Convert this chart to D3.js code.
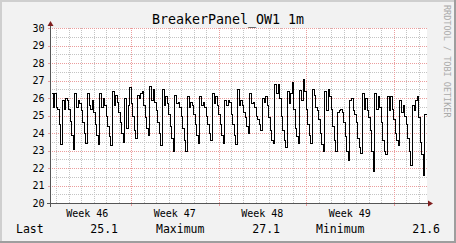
<!DOCTYPE html>
<html>
<head>
<meta charset="utf-8">
<script src="https://cdn.jsdelivr.net/npm/d3@7"></script>
<style>
  html, body { margin: 0; padding: 0; background: #f2f2f2; }
  svg { display: block; font-family: 'DejaVu Sans Mono', monospace; }
</style>
</head>
<body>
<div id="chart"></div>
<script>
// RRD style graph of one breaker panel sensor, one month

const title = 'BreakerPanel_OW1 1m'
const watermark = 'RRDTOOL / TOBI OETIKER'

// one sample every 3 hours, starting Monday 2023-11-13 14:24 UTC
const startTime = Date.UTC(2023, 10, 13, 14, 24)
const stepHours = 3

const values = [
  26.3, 25.5, 26.3, 25.5, 25.4, 24.5, 23.35, 25.9,
  25.4, 26.0, 25.9, 25.4, 24.7, 23.9, 23.1, 26.3,
  25.5, 25.9, 25.7, 25.3, 24.6, 24.0, 23.45, 26.3,
  25.6, 25.4, 25.9, 25.2, 24.5, 23.9, 23.35, 26.3,
  25.5, 26.0, 25.6, 25.0, 24.4, 23.8, 23.3, 26.4,
  25.6, 26.2, 25.8, 25.2, 24.6, 24.0, 23.5, 26.0,
  24.3, 25.6, 26.6, 25.7, 25.0, 24.2, 23.7, 26.2,
  26.0, 26.3, 26.4, 25.6, 24.9, 24.3, 23.9, 26.7,
  25.9, 26.5, 25.8, 25.3, 24.6, 24.0, 23.3, 26.5,
  25.6, 26.1, 25.7, 25.1, 24.4, 23.7, 23.0, 26.2,
  25.7, 25.8, 25.5, 25.0, 24.3, 23.6, 23.0, 26.1,
  25.5, 25.8, 25.6, 25.1, 24.5, 23.9, 23.45, 26.1,
  25.6, 25.8, 25.5, 25.0, 24.5, 24.0, 23.6, 26.3,
  25.7, 26.1, 25.6, 25.1, 24.5, 23.9, 23.45, 25.9,
  25.6, 25.9, 25.8, 25.1, 24.5, 23.9, 23.4, 26.5,
  25.6, 25.9, 25.6, 25.2, 24.9, 24.4, 24.0, 26.3,
  25.7, 25.8, 25.5, 25.0, 24.8, 24.5, 24.2, 26.0,
  25.8, 26.1, 25.6, 24.9, 24.2, 23.6, 23.45, 26.8,
  26.3, 26.8, 26.0, 25.0, 24.2, 23.6, 23.2, 26.4,
  25.7, 26.3, 26.9, 25.4, 24.3, 23.8, 23.45, 26.45,
  25.9, 27.1, 26.4, 25.4, 24.5, 23.9, 23.45, 26.5,
  26.2, 25.5, 25.3, 24.8, 24.0, 23.4, 23.0, 26.4,
  25.3, 26.5, 26.1, 25.4, 24.4, 23.6, 23.0, 25.2,
  25.3, 25.4, 25.2, 24.6, 23.8, 23.0, 22.45, 25.9,
  26.0, 25.3, 25.1, 24.6, 23.7, 23.2, 22.85, 26.3,
  25.4, 26.0, 25.3, 24.9, 24.2, 23.0, 21.8, 26.3,
  25.4, 26.1, 25.5, 24.6, 23.6, 23.0, 22.8, 26.1,
  25.3, 26.1, 25.4, 24.8, 24.0, 23.6, 23.3, 25.9,
  25.2, 25.6, 25.0, 24.5, 23.7, 23.0, 22.2, 25.6,
  25.3, 25.9, 26.1, 24.9, 23.5, 22.8, 21.6, 25.1
]

const weekStarts = ['2023-11-13', '2023-11-20', '2023-11-27', '2023-12-04']
const weekLabels = ['Week 46', 'Week 47', 'Week 48', 'Week 49']
const yTicks = [20, 21, 22, 23, 24, 25, 26, 27, 28, 29, 30]
const legendNames = ['Last', 'Maximum', 'Minimum']

// colours
const col = {
  back: '#f2f2f2',
  canvas: '#ffffff',
  shadeA: '#cfcfcf',
  shadeB: '#9e9e9e',
  grid: '#c4c4c4',
  mgrid: '#eb9d9d',
  axis: '#555555',
  arrow: '#801f1f',
  font: '#000000'
}

const width = 456
const height = 243
const plot = { left: 51, right: 427, top: 28, bottom: 203 }

const svg = d3.select('#chart')
  .append('svg')
  .attr('width', width)
  .attr('height', height)

// background and 3d border
svg.append('rect').attr('width', width).attr('height', height).attr('fill', col.back)
svg.append('rect').attr('x', 0).attr('y', 0).attr('width', width).attr('height', 2).attr('fill', col.shadeA)
svg.append('rect').attr('x', 0).attr('y', 0).attr('width', 2).attr('height', height).attr('fill', col.shadeA)
svg.append('rect').attr('x', width - 2).attr('y', 0).attr('width', 2).attr('height', height).attr('fill', col.shadeB)
svg.append('rect').attr('x', 0).attr('y', height - 2).attr('width', width).attr('height', 2).attr('fill', col.shadeB)

// canvas
svg.append('rect')
  .attr('x', plot.left)
  .attr('y', plot.top)
  .attr('width', plot.right - plot.left)
  .attr('height', plot.bottom - plot.top)
  .attr('fill', col.canvas)

const step = stepHours * 3600 * 1000
const endTime = startTime + values.length * step
const data = values.map((v, i) => ({ t: new Date(startTime + i * step), v }))

const x = d3.scaleUtc()
  .domain([new Date(startTime), new Date(endTime)])
  .range([plot.left, plot.right - 1])

const y = d3.scaleLinear()
  .domain([20, 30])
  .range([plot.bottom, plot.top])

// dotted lines built from 1px squares so they stay crisp
const hDots = (yy, x0, x1) => {
  let d = ''
  for (let xx = x0; xx < x1; xx += 2) d += `M${xx},${yy}h1v1h-1z`
  return d
}
const vDots = (xx, y0, y1) => {
  let d = ''
  for (let yy = y0; yy < y1; yy += 2) d += `M${xx},${yy}h1v1h-1z`
  return d
}

const gridG = svg.append('g').attr('shape-rendering', 'crispEdges')

// minor grid
const halfSteps = d3.range(20.5, 30, 1)
const days = d3.utcDay.range(new Date(startTime), new Date(endTime))
  .filter(d => d.getUTCDay() !== 1)
gridG.append('path')
  .attr('d', halfSteps.map(v => hDots(Math.round(y(v)), plot.left + 1, plot.right)).join('') +
    days.map(d => vDots(Math.round(x(d)), plot.top, plot.bottom)).join(''))
  .attr('fill', col.grid)

// major grid
const mondays = d3.utcMonday.range(new Date(startTime), new Date(endTime))
gridG.append('path')
  .attr('d', yTicks.slice(1).map(v => hDots(Math.round(y(v)), plot.left + 1, plot.right)).join('') +
    mondays.map(d => vDots(Math.round(x(d)), plot.top, plot.bottom)).join(''))
  .attr('fill', col.mgrid)

// tick marks outside the axes
gridG.selectAll('.ytick').data(yTicks).join('rect')
  .attr('x', plot.left - 3).attr('y', d => Math.round(y(d)))
  .attr('width', 2).attr('height', 1)
  .attr('fill', col.mgrid)
gridG.selectAll('.xtick').data(mondays).join('rect')
  .attr('x', d => Math.round(x(d))).attr('y', plot.bottom + 1)
  .attr('width', 1).attr('height', 2)
  .attr('fill', col.mgrid)

// axes
svg.append('rect')
  .attr('x', plot.left - 4).attr('y', plot.bottom)
  .attr('width', plot.right - plot.left + 6).attr('height', 1)
  .attr('fill', col.axis)
svg.append('rect')
  .attr('x', plot.left - 1).attr('y', plot.top - 4)
  .attr('width', 1).attr('height', plot.bottom - plot.top + 8)
  .attr('fill', col.axis)

svg.append('path')
  .attr('d', `M${plot.left - 3.5},${plot.top - 2} L${plot.left - 0.5},${plot.top - 7} L${plot.left + 2.5},${plot.top - 2} Z`)
  .attr('fill', col.arrow)
svg.append('path')
  .attr('d', `M${plot.right + 1},${plot.bottom - 2.5} L${plot.right + 6},${plot.bottom + 0.5} L${plot.right + 1},${plot.bottom + 3.5} Z`)
  .attr('fill', col.arrow)

// y labels
svg.append('g').selectAll('text').data(yTicks).join('text')
  .attr('x', plot.left - 6.5)
  .attr('y', d => y(d) + 3.6)
  .attr('text-anchor', 'end')
  .attr('font-size', '10px')
  .attr('fill', col.font)
  .text(d => d)

// week labels
svg.append('g').selectAll('text').data(weekStarts).join('text')
  .attr('x', d => x(new Date(Date.parse(d) + 3.5 * 86400000)))
  .attr('y', 216.5)
  .attr('text-anchor', 'middle')
  .attr('font-size', '10px')
  .attr('fill', col.font)
  .text((d, i) => weekLabels[i])

// data line
const line = d3.line()
  .x(d => Math.round(x(d.t)) + 0.5)
  .y(d => Math.round(y(d.v)) + 0.5)
  .curve(d3.curveStepAfter)

svg.append('path')
  .datum(data.concat([{ t: new Date(endTime), v: values[values.length - 1] }]))
  .attr('d', line)
  .attr('fill', 'none')
  .attr('stroke', '#000')
  .attr('stroke-width', 1.2)
  .attr('shape-rendering', 'crispEdges')

// title
svg.append('text')
  .attr('x', width / 2)
  .attr('y', 24)
  .attr('text-anchor', 'middle')
  .attr('font-size', '13.3px')
  .attr('fill', col.font)
  .text(title)

// watermark
svg.append('text')
  .attr('transform', 'translate(444,5) rotate(90)')
  .attr('font-size', '8.5px')
  .attr('fill', '#aaaaaa')
  .text(watermark)

// legend
const fmt = d3.format('.1f')
const legendValues = [values[values.length - 1], d3.max(values), d3.min(values)]
const legendNameX = [16, 156, 316]
const legendValueX = [118, 280, 440]
legendNames.forEach((name, i) => {
  svg.append('text')
    .attr('x', legendNameX[i]).attr('y', 233)
    .attr('font-size', '11.5px').attr('fill', col.font)
    .text(name)
  svg.append('text')
    .attr('x', legendValueX[i]).attr('y', 233)
    .attr('text-anchor', 'end')
    .attr('font-size', '11.5px').attr('fill', col.font)
    .text(fmt(legendValues[i]))
})
</script>
</body>
</html>
